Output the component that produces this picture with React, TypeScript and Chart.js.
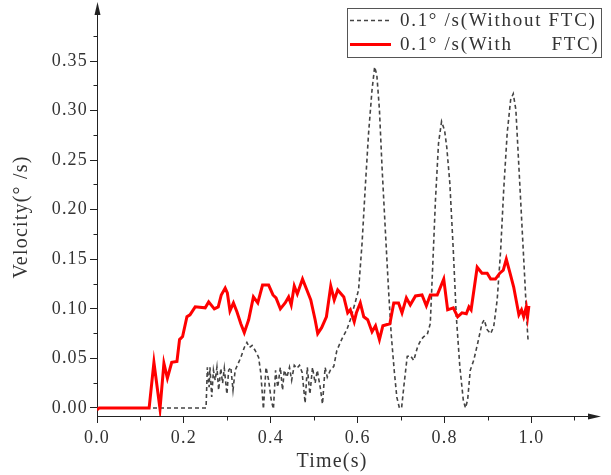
import React, { useEffect, useRef } from 'react';
import { Chart, registerables } from 'chart.js';

Chart.register(...registerables);

// ---------------- data ----------------
const withFtcTime = [
  0, 0.005, 0.120, 0.131, 0.145, 0.154, 0.162, 0.172, 0.184, 0.190,
  0.197, 0.207, 0.214, 0.226, 0.249, 0.257, 0.270, 0.279, 0.286, 0.295,
  0.300, 0.306, 0.314, 0.322, 0.331, 0.339, 0.349, 0.360, 0.370, 0.381,
  0.395, 0.405, 0.412, 0.422, 0.433, 0.441, 0.447, 0.454, 0.461, 0.473,
  0.483, 0.492, 0.502, 0.508, 0.517, 0.528, 0.538, 0.546, 0.554, 0.568,
  0.577, 0.583, 0.592, 0.597, 0.606, 0.614, 0.623, 0.633, 0.641, 0.650,
  0.658, 0.674, 0.683, 0.694, 0.702, 0.712, 0.721, 0.733, 0.748, 0.758,
  0.767, 0.783, 0.798, 0.807, 0.820, 0.830, 0.840, 0.850, 0.856, 0.861,
  0.875, 0.886, 0.898, 0.906, 0.917, 0.927, 0.935, 0.942, 0.950, 0.959,
  0.971, 0.977, 0.982, 0.988, 0.991, 0.994,
];
const withFtcVel = [
  -0.002, 0, 0, 0.046, -0.001, 0.045, 0.030, 0.046, 0.047, 0.069,
  0.072, 0.092, 0.094, 0.102, 0.101, 0.107, 0.100, 0.102, 0.114, 0.121,
  0.116, 0.098, 0.106, 0.097, 0.085, 0.076, 0.089, 0.112, 0.106, 0.124,
  0.124, 0.114, 0.111, 0.100, 0.106, 0.112, 0.104, 0.123, 0.115, 0.130,
  0.119, 0.109, 0.089, 0.075, 0.081, 0.092, 0.123, 0.109, 0.119, 0.112,
  0.096, 0.099, 0.087, 0.096, 0.106, 0.092, 0.089, 0.077, 0.083, 0.069,
  0.083, 0.085, 0.106, 0.106, 0.096, 0.111, 0.104, 0.113, 0.114, 0.103,
  0.114, 0.114, 0.130, 0.099, 0.101, 0.092, 0.096, 0.095, 0.102, 0.099,
  0.142, 0.136, 0.136, 0.130, 0.130, 0.136, 0.139, 0.150, 0.137, 0.122,
  0.094, 0.099, 0.092, 0.102, 0.092, 0.103,
];

const withoutFtcTime = [
  0, 0.251, 0.254, 0.258, 0.260, 0.264, 0.268, 0.272, 0.276, 0.280,
  0.285, 0.289, 0.293, 0.299, 0.303, 0.308, 0.313, 0.318, 0.323, 0.331,
  0.339, 0.345, 0.351, 0.357, 0.364, 0.372, 0.377, 0.383, 0.389, 0.395,
  0.401, 0.406, 0.411, 0.416, 0.422, 0.427, 0.431, 0.437, 0.443, 0.448,
  0.454, 0.460, 0.466, 0.472, 0.479, 0.484, 0.490, 0.496, 0.502, 0.507,
  0.514, 0.519, 0.525, 0.530, 0.537, 0.545, 0.552, 0.564, 0.575, 0.583,
  0.594, 0.602, 0.610, 0.618, 0.625, 0.633, 0.639, 0.644, 0.650, 0.656,
  0.664, 0.671, 0.677, 0.684, 0.690, 0.696, 0.701, 0.707, 0.714, 0.721,
  0.729, 0.738, 0.746, 0.752, 0.760, 0.767, 0.771, 0.779, 0.786, 0.793,
  0.800, 0.805, 0.812, 0.820, 0.827, 0.835, 0.843, 0.848, 0.853, 0.859,
  0.867, 0.876, 0.886, 0.891, 0.898, 0.906, 0.913, 0.921, 0.929, 0.936,
  0.944, 0.952, 0.958, 0.964, 0.971, 0.979, 0.985, 0.990, 0.992,
];
const withoutFtcVel = [
  0, 0, 0.041, 0.021, 0.041, 0.011, 0.038, 0.028, 0.041, 0.018,
  0.040, 0.025, 0.040, 0.014, 0.038, 0.041, 0.018, 0.038, 0.043, 0.051,
  0.061, 0.066, 0.061, 0.063, 0.058, 0.051, 0.035, -0.001, 0.041, 0.028,
  0.008, -0.001, 0.038, 0.021, 0.041, 0.018, 0.038, 0.031, 0.041, 0.028,
  0.043, 0.040, 0.043, 0.036, 0.005, 0.041, 0.014, 0.041, 0.025, 0.038,
  0.020, 0.004, 0.041, 0.031, 0.038, 0.042, 0.058, 0.070, 0.079, 0.089,
  0.106, 0.119, 0.166, 0.227, 0.277, 0.321, 0.344, 0.336, 0.301, 0.243,
  0.176, 0.119, 0.075, 0.038, 0.011, 0.000, 0.000, 0.025, 0.052, 0.053,
  0.048, 0.062, 0.069, 0.072, 0.074, 0.085, 0.126, 0.210, 0.267, 0.289,
  0.280, 0.263, 0.227, 0.159, 0.092, 0.042, 0.008, 0.000, 0.008, 0.038,
  0.048, 0.065, 0.085, 0.089, 0.079, 0.075, 0.082, 0.109, 0.159, 0.220,
  0.277, 0.311, 0.317, 0.301, 0.243, 0.176, 0.126, 0.082, 0.069,
];

const seriesLabels = ['0.1° /s(Without FTC)', '0.1° /s(With      FTC)'];
const xTickValues = [0, 0.2, 0.4, 0.6, 0.8, 1.0];
const xMinorTickValues = [0.1, 0.3, 0.5, 0.7, 0.9, 1.1];
const yTickValues = [0, 0.05, 0.1, 0.15, 0.2, 0.25, 0.3, 0.35];
const yMinorTickValues = [0.025, 0.075, 0.125, 0.175, 0.225, 0.275, 0.325, 0.375];
const xTitle = 'Time(s)';
const yTitle = 'Velocity(° /s)';

// ---------------- style ----------------
const FONT = '"Liberation Serif", "Times New Roman", serif';
const AXIS = '#222';
const TEXT = '#333';
const X_MIN = 0;
const X_MAX = 1.0817;
const Y_MIN = -0.0081;
const Y_MAX = 0.3934;

const decorPlugin = {
  id: 'decor',
  beforeDraw(chart: any) {
    // widen glyph spacing a little, like the original's CJK serif font
    chart.ctx.letterSpacing = '1.2px';
  },
  afterDraw(chart: any) {
    const ctx = chart.ctx;
    const { left, right, top, bottom } = chart.chartArea;
    const xs = chart.scales.x;
    const ys = chart.scales.y;
    const ax = Math.round(left - 0.5) + 0.5;
    const ay = Math.round(bottom - 0.5) + 0.5;
    ctx.save();
    ctx.strokeStyle = AXIS;
    ctx.fillStyle = AXIS;
    ctx.lineWidth = 1;
    // y axis extension + arrow
    ctx.beginPath();
    ctx.moveTo(ax, top);
    ctx.lineTo(ax, 12);
    ctx.stroke();
    ctx.beginPath();
    ctx.moveTo(ax, 2);
    ctx.lineTo(ax - 3, 15);
    ctx.lineTo(ax + 3, 15);
    ctx.closePath();
    ctx.fill();
    // x axis extension + arrow
    ctx.beginPath();
    ctx.moveTo(right, ay);
    ctx.lineTo(592, ay);
    ctx.stroke();
    ctx.beginPath();
    ctx.moveTo(601, ay);
    ctx.lineTo(588, ay - 3);
    ctx.lineTo(588, ay + 3);
    ctx.closePath();
    ctx.fill();
    // minor ticks
    ctx.beginPath();
    for (const v of yMinorTickValues) {
      const py = Math.round(ys.getPixelForValue(v) - 0.5) + 0.5;
      ctx.moveTo(ax - 4, py);
      ctx.lineTo(ax, py);
    }
    for (const v of xMinorTickValues) {
      const px = Math.round(xs.getPixelForValue(v) - 0.5) + 0.5;
      ctx.moveTo(px, ay);
      ctx.lineTo(px, ay + 4);
    }
    ctx.stroke();

    // legend (box + samples + labels)
    const bx = 347.5, by = 8.5, bw = 254, bh = 49;
    ctx.fillStyle = '#fff';
    ctx.fillRect(bx, by, bw, bh);
    ctx.strokeStyle = '#555';
    ctx.lineWidth = 1;
    ctx.strokeRect(bx, by, bw, bh);
    const rowsY = [20.5, 44.5];
    chart.data.datasets.forEach((ds: any, i: number) => {
      const y = rowsY[i];
      ctx.save();
      ctx.strokeStyle = ds.borderColor;
      ctx.lineWidth = ds.borderWidth;
      ctx.setLineDash(ds.borderDash || []);
      ctx.beginPath();
      ctx.moveTo(350, y);
      ctx.lineTo(391, y);
      ctx.stroke();
      ctx.restore();
      ctx.fillStyle = TEXT;
      ctx.font = `19px ${FONT}`;
      ctx.letterSpacing = '1.7px';
      ctx.textBaseline = 'middle';
      ctx.textAlign = 'left';
      ctx.fillText(ds.label, 400, y + 1);
    });
    ctx.restore();
  },
};

export default function App() {
  const ref = useRef<HTMLCanvasElement | null>(null);

  useEffect(() => {
    if (!ref.current) return;
    const toPoints = (ts: number[], vs: number[]) => ts.map((t, i) => ({ x: t, y: vs[i] }));
    const chart = new Chart(ref.current, {
      type: 'line',
      data: {
        datasets: [
          {
            label: seriesLabels[0],
            data: toPoints(withoutFtcTime, withoutFtcVel),
            borderColor: '#444',
            backgroundColor: '#444',
            borderWidth: 1.6,
            borderDash: [4, 3],
            pointRadius: 0,
            tension: 0,
            order: 1,
          },
          {
            label: seriesLabels[1],
            data: toPoints(withFtcTime, withFtcVel),
            borderColor: '#ff0000',
            backgroundColor: '#ff0000',
            borderWidth: 3,
            pointRadius: 0,
            tension: 0,
            order: 0,
          },
        ],
      },
      options: {
        responsive: false,
        animation: false,
        events: [],
        layout: { padding: { left: 0, top: 18, right: 44, bottom: 0 } },
        plugins: {
          tooltip: { enabled: false },
          legend: { display: false },
        },
        scales: {
          x: {
            type: 'linear',
            min: X_MIN,
            max: X_MAX,
            afterBuildTicks: (s: any) => {
              s.ticks = xTickValues.map((v) => ({ value: v }));
            },
            afterFit: (s: any) => {
              s.height = 59;
            },
            grid: { display: true, drawOnChartArea: false, drawTicks: true, tickLength: 7, color: AXIS, lineWidth: 1 },
            border: { display: true, color: AXIS, width: 1 },
            ticks: {
              padding: 4,
              color: TEXT,
              autoSkip: false,
              maxRotation: 0,
              font: { family: FONT, size: 18 },
              callback: (v: any) => Number(v).toFixed(1),
            },
            title: {
              display: true,
              text: xTitle,
              color: TEXT,
              font: { family: FONT, size: 20 },
              padding: { top: 0, bottom: 1 },
            },
          },
          y: {
            type: 'linear',
            min: Y_MIN,
            max: Y_MAX,
            afterBuildTicks: (s: any) => {
              s.ticks = yTickValues.map((v) => ({ value: v }));
            },
            afterFit: (s: any) => {
              s.width = 97;
            },
            grid: { display: true, drawOnChartArea: false, drawTicks: true, tickLength: 7, color: AXIS, lineWidth: 1 },
            border: { display: true, color: AXIS, width: 1 },
            ticks: {
              padding: 2,
              color: TEXT,
              autoSkip: false,
              font: { family: FONT, size: 18 },
              callback: (v: any) => Number(v).toFixed(2),
            },
            title: {
              display: true,
              text: yTitle,
              color: TEXT,
              font: { family: FONT, size: 20 },
              padding: { top: 10, bottom: 0 },
            },
          },
        },
      },
      plugins: [decorPlugin],
    } as any);
    return () => chart.destroy();
  }, []);

  return (
    <div style={{ position: 'absolute', left: 0, top: 0, width: 611, height: 475, background: '#fff' }}>
      <canvas ref={ref} width={611} height={475} style={{ display: 'block' }} />
    </div>
  );
}
